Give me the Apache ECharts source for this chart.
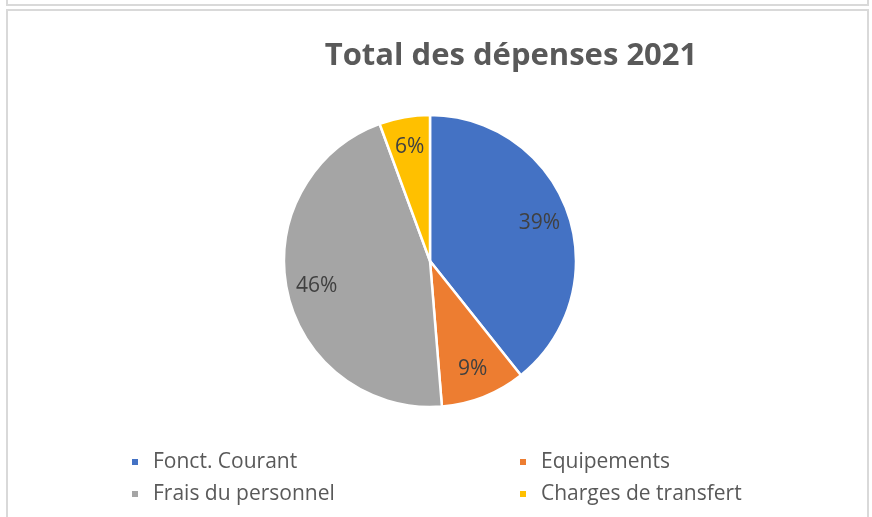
<!DOCTYPE html>
<html>
<head>
<meta charset="utf-8">
<script src="https://cdn.jsdelivr.net/npm/echarts@6/dist/echarts.min.js"></script>
<style>
    html, body { margin: 0; padding: 0; background: #fff; }
    #chart { width: 872px; height: 517px; }
</style>
</head>
<body>
<div id="chart"></div>
<script>
// données du graphique
const categories = ['Fonct. Courant', 'Equipements', 'Frais du personnel', 'Charges de transfert']
const values = [39.3, 9.4, 45.7, 5.6]
const colors = ['#4472C4', '#ED7D31', '#A5A5A5', '#FFC000']

const pieData = categories.map((name, i) => ({ name: name, value: values[i] }))

let dom = echarts.init(document.getElementById('chart'))
let legendText = {
    color: '#595959',
    fontSize: 21,
    fontFamily: 'Open Sans',
    lineHeight: 22,
    padding: [0, 0, 0, 9]
}
let option = {
    backgroundColor: '#fff',
    color: colors,
    animation: false,
    title: {
        text: 'Total des dépenses 2021',
        left: 506,
        top: 36,
        textAlign: 'center',
        textStyle: {
            color: '#595959',
            fontSize: 31,
            fontWeight: 'bold',
            fontFamily: 'Open Sans'
        }
    },
    legend: [
        {
            data: [categories[0], categories[2]],
            orient: 'vertical',
            left: 130,
            top: 451,
            padding: 0,
            icon: 'rect',
            itemWidth: 8,
            itemHeight: 8,
            itemGap: 10,
            textStyle: legendText
        },
        {
            data: [categories[1], categories[3]],
            orient: 'vertical',
            left: 518,
            top: 451,
            padding: 0,
            icon: 'rect',
            itemWidth: 8,
            itemHeight: 8,
            itemGap: 10,
            textStyle: legendText
        }
    ],
    graphic: [
        {
            type: 'rect',
            shape: { x: 7, y: -10, width: 861, height: 15 },
            style: { fill: 'none', stroke: '#d9d9d9', lineWidth: 2 }
        },
        {
            type: 'rect',
            shape: { x: 7, y: 10, width: 861, height: 520 },
            style: { fill: 'none', stroke: '#d9d9d9', lineWidth: 2 }
        }
    ],
    series: [
        {
            type: 'pie',
            center: [430, 261],
            radius: 146,
            startAngle: 90,
            clockwise: true,
            data: pieData,
            itemStyle: { borderColor: '#fff', borderWidth: 2.5 },
            label: { show: false },
            labelLine: { show: false },
            emphasis: { disabled: true }
        },
        {
            // série transparente pour placer les pourcentages plus loin du centre
            type: 'pie',
            center: [430, 261],
            radius: [80, 146],
            startAngle: 90,
            clockwise: true,
            silent: true,
            percentPrecision: 0,
            data: pieData,
            itemStyle: { color: 'transparent' },
            label: {
                show: true,
                position: 'inside',
                formatter: '{d}%',
                color: '#404040',
                fontSize: 21,
                fontFamily: 'Open Sans'
            },
            labelLine: { show: false },
            emphasis: { disabled: true }
        }
    ]
}
dom.setOption(option)
</script>
</body>
</html>
